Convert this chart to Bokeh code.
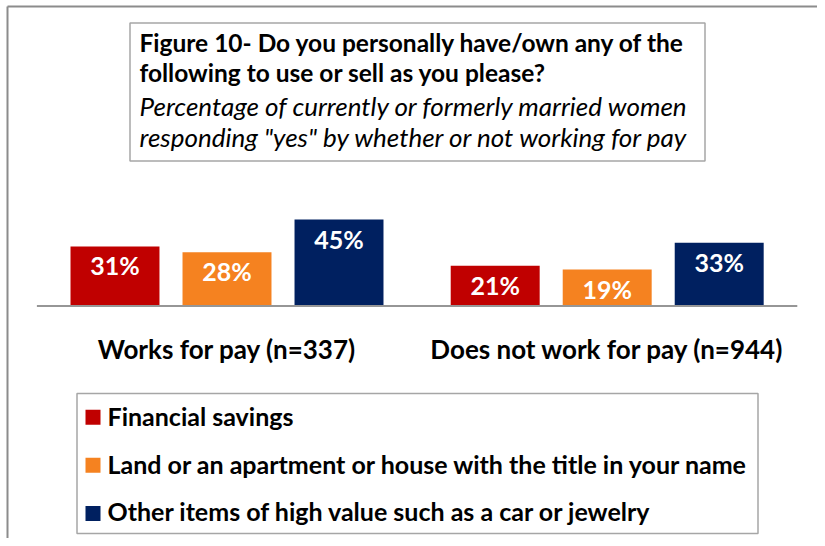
from bokeh.plotting import figure
from bokeh.models import Range1d, ColumnDataSource
from bokeh.core.properties import value
from bokeh.embed import file_html
from bokeh.resources import INLINE

# ---- data ----
groups = ["Works for pay (n=337)", "Does not work for pay (n=944)"]
series = ["Financial savings",
          "Land or an apartment or house with the title in your name",
          "Other items of high value such as a car or jewelry"]
financial = [31, 21]
land = [28, 19]
other = [45, 33]
colors = ["#C00000", "#F58220", "#002060"]
title_lines = ["Figure 10- Do you personally have/own any of the",
               "following to use or sell as you please?"]
subtitle_lines = ["Percentage of currently or formerly married women",
                  'responding "yes" by whether or not working for pay']

FONT = value("Lato")
W, H = 817, 538

p = figure(width=W, height=H, output_backend="svg", toolbar_location=None,
           x_range=Range1d(0, W), y_range=Range1d(H, 0),
           x_axis_location=None, y_axis_location=None,
           min_border=0, min_border_left=0, min_border_right=0,
           min_border_top=0, min_border_bottom=0)
p.grid.visible = False
p.outline_line_color = None
p.background_fill_color = "white"
p.border_fill_color = "white"

# group scale (category index) and percentage scale
GW = 380.2
p.extra_x_ranges = {"grp": Range1d(-226.5 / GW, -226.5 / GW + W / GW)}
PX = 1.92
BASE = 305.5
p.extra_y_ranges = {"pct": Range1d(-(H - BASE) / PX, BASE / PX)}

# outer frame (left/top edges visible)
p.segment(x0=[7, 7], y0=[6, 6], x1=[7, W], y1=[H, 6], line_color="#8c8c8c", line_width=2)

# title box
p.quad(left=129.5, right=704.5, top=22.5, bottom=160.5, fill_color="white",
       line_color="#a6a6a6", line_width=1.5)
p.text(x=[139] * len(title_lines), y=[41.5, 72], text=title_lines, text_font=FONT,
       text_font_style="bold", text_font_size="24.5px", text_color="black",
       text_baseline="middle", text_align="left")
p.text(x=[139] * len(subtitle_lines), y=[105.5, 136.5], text=subtitle_lines, text_font=FONT,
       text_font_style="italic", text_font_size="26px", text_color="black",
       text_baseline="middle", text_align="left")

# bars
offsets = [-0.2946, 0.0, 0.2946]
xs, tops, cols, labs = [], [], [], []
for s, vals in enumerate([financial, land, other]):
    for g, v in enumerate(vals):
        xs.append(g + offsets[s])
        tops.append(v)
        cols.append(colors[s])
        labs.append(f"{v}%")
src = ColumnDataSource(dict(x=xs, top=tops, color=cols, label=labs))
p.vbar(x="x", top="top", bottom=0, width=0.234, fill_color="color", line_color=None,
       source=src, x_range_name="grp", y_range_name="pct")
p.text(x="x", y="top", text="label", source=src, x_range_name="grp", y_range_name="pct",
       y_offset=19, text_align="center", text_baseline="middle", text_color="white",
       text_font=FONT, text_font_style="bold", text_font_size="25px")

# category axis line and labels
p.segment(x0=[-0.5], y0=[0], x1=[len(groups) - 0.5], y1=[0], line_color="#969696",
          line_width=2, x_range_name="grp", y_range_name="pct")
p.text(x=list(range(len(groups))), y=[348] * len(groups), text=groups, x_range_name="grp",
       text_align="center", text_baseline="middle", text_color="black",
       text_font=FONT, text_font_style="bold", text_font_size="26px")

# legend box
p.quad(left=76.5, right=757.5, top=393, bottom=533, fill_color="white",
       line_color="#a6a6a6", line_width=1.5)
sq_y = [416.7, 464.7, 513]
txt_y = [415, 463, 510.5]
p.rect(x=[92.5] * 3, y=sq_y, width=15, height=15, fill_color=colors, line_color=None)
p.text(x=[107] * 3, y=txt_y, text=series, text_font=FONT, text_font_style="bold",
       text_font_size="25px", text_color="black", text_baseline="middle", text_align="left")

open("out.html", "w").write(file_html(p, INLINE))
